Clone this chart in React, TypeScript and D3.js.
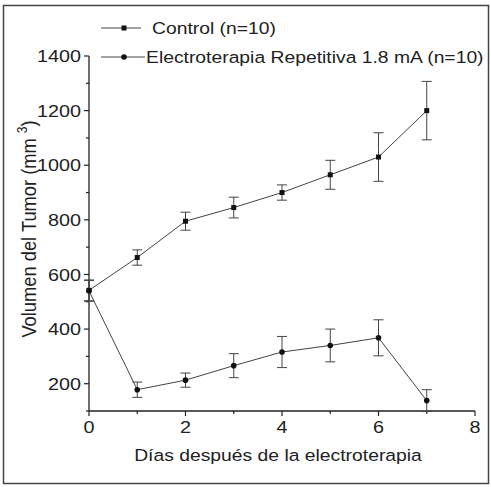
import React, { useRef, useEffect } from "react";
import * as d3 from "d3";

// data
const days = [0, 1, 2, 3, 4, 5, 6, 7];
const controlMean = [542, 662, 795, 845, 900, 965, 1030, 1200];
const controlErr = [38, 28, 33, 38, 28, 53, 89, 107];
const electroMean = [540, 178, 213, 266, 316, 340, 368, 138];
const electroErr = [38, 28, 26, 44, 57, 60, 66, 40];
const xTicks = [0, 2, 4, 6, 8];
const yTicks = [200, 400, 600, 800, 1000, 1200, 1400];
const legendLabels = ["Control (n=10)", "Electroterapia Repetitiva 1.8 mA (n=10)"];

const App = () => {
  const ref = useRef<SVGSVGElement | null>(null);
  const width = 491;
  const height = 487;

  useEffect(() => {
    const svg = d3.select(ref.current);
    svg.selectAll("*").remove();
    const font = "'Liberation Sans', Arial, sans-serif";
    const ink = "#222";
    const stretch = 1.15; // the scan's text is wider than it is tall

    // text helper, stretched horizontally like the original
    const addText = (parent, tx, ty, str, anchor = "start", size = 17, dy = "0") =>
      parent
        .append("g")
        .attr("transform", `translate(${tx},${ty}) scale(${stretch},1)`)
        .append("text")
        .attr("dy", dy)
        .attr("text-anchor", anchor)
        .attr("font-family", font)
        .attr("font-size", size)
        .attr("fill", ink)
        .text(str);

    svg.append("rect").attr("width", width).attr("height", height).attr("fill", "#fff");
    // outer frame
    svg
      .append("rect")
      .attr("x", 3.5)
      .attr("y", 5.5)
      .attr("width", 485)
      .attr("height", 478)
      .attr("fill", "none")
      .attr("stroke", "#444")
      .attr("stroke-width", 1.5);

    const x = d3.scaleLinear().domain([0, 8]).range([89, 475]);
    const y = d3.scaleLinear().domain([100, 1400]).range([411, 56]);

    // axes
    const xAxis = svg.append("g").attr("transform", `translate(0,${y(100)})`);
    xAxis.append("line").attr("x1", x(0)).attr("x2", x(8)).attr("stroke", ink).attr("stroke-width", 1.3);
    d3.range(0, 9).forEach((d) => {
      xAxis
        .append("line")
        .attr("x1", x(d))
        .attr("x2", x(d))
        .attr("y1", 0)
        .attr("y2", d % 2 === 0 ? 5 : 3)
        .attr("stroke", ink)
        .attr("stroke-width", 1.2);
    });
    xTicks.forEach((d) => addText(xAxis, x(d), 22, d, "middle", 17.2));

    const yAxis = svg.append("g").attr("transform", `translate(${x(0)},0)`);
    yAxis.append("line").attr("y1", y(100)).attr("y2", y(1400)).attr("stroke", ink).attr("stroke-width", 1.3);
    d3.range(100, 1401, 100).forEach((d) => {
      const major = d % 200 === 0;
      yAxis
        .append("line")
        .attr("x1", major ? -5 : -3)
        .attr("x2", 0)
        .attr("y1", y(d))
        .attr("y2", y(d))
        .attr("stroke", ink)
        .attr("stroke-width", 1.2);
    });
    yTicks.forEach((d) => addText(yAxis, -8, y(d), d, "end", 17.2, "0.36em"));

    // axis titles
    addText(svg, 278, 461, "Días después de la electroterapia", "middle", 16.8);

    const yt = svg
      .append("text")
      .attr("transform", `translate(36,229) scale(${stretch},1) rotate(-90)`)
      .attr("text-anchor", "middle")
      .attr("font-family", font)
      .attr("font-size", 18.3)
      .attr("fill", ink);
    yt.append("tspan").text("Volumen del Tumor (mm ");
    yt.append("tspan").attr("font-size", 12).attr("dy", -8).text("3");
    yt.append("tspan").attr("dy", 8).text(")");

    const series = [
      { mean: controlMean, err: controlErr, shape: "square" },
      { mean: electroMean, err: electroErr, shape: "circle" },
    ];
    const line = d3
      .line<number>()
      .x((_, i) => x(days[i]))
      .y((d) => y(d));

    const drawMarker = (g, shape, cx, cy) => {
      if (shape === "square") {
        g.append("rect").attr("x", cx - 2.5).attr("y", cy - 2.5).attr("width", 5).attr("height", 5).attr("fill", "#111");
      } else {
        g.append("circle").attr("cx", cx).attr("cy", cy).attr("r", 2.8).attr("fill", "#111");
      }
    };

    series.forEach((s) => {
      const g = svg.append("g");
      g.append("path").attr("d", line(s.mean)).attr("fill", "none").attr("stroke", "#444").attr("stroke-width", 1);
      s.mean.forEach((m, i) => {
        const cx = x(days[i]);
        const top = y(m + s.err[i]);
        const bot = y(m - s.err[i]);
        g.append("line").attr("x1", cx).attr("x2", cx).attr("y1", top).attr("y2", bot).attr("stroke", "#444");
        [top, bot].forEach((yy) =>
          g.append("line").attr("x1", cx - 5).attr("x2", cx + 5).attr("y1", yy).attr("y2", yy).attr("stroke", "#444")
        );
        drawMarker(g, s.shape, cx, y(m));
      });
    });

    // legend
    legendLabels.forEach((label, i) => {
      const ly = 28 + i * 29;
      const g = svg.append("g");
      const x2 = i === 0 ? 141 : 145;
      g.append("line").attr("x1", 101).attr("x2", x2).attr("y1", ly).attr("y2", ly).attr("stroke", "#444");
      drawMarker(g, i === 0 ? "square" : "circle", 124, ly);
      addText(g, i === 0 ? 152 : 146, ly, label, "start", 16.8, "0.36em");
    });
  }, []);

  return (
    <svg
      ref={ref}
      width={width}
      height={height}
      style={{ position: "absolute", left: 0, top: 0 }}
    />
  );
};

export default App;
